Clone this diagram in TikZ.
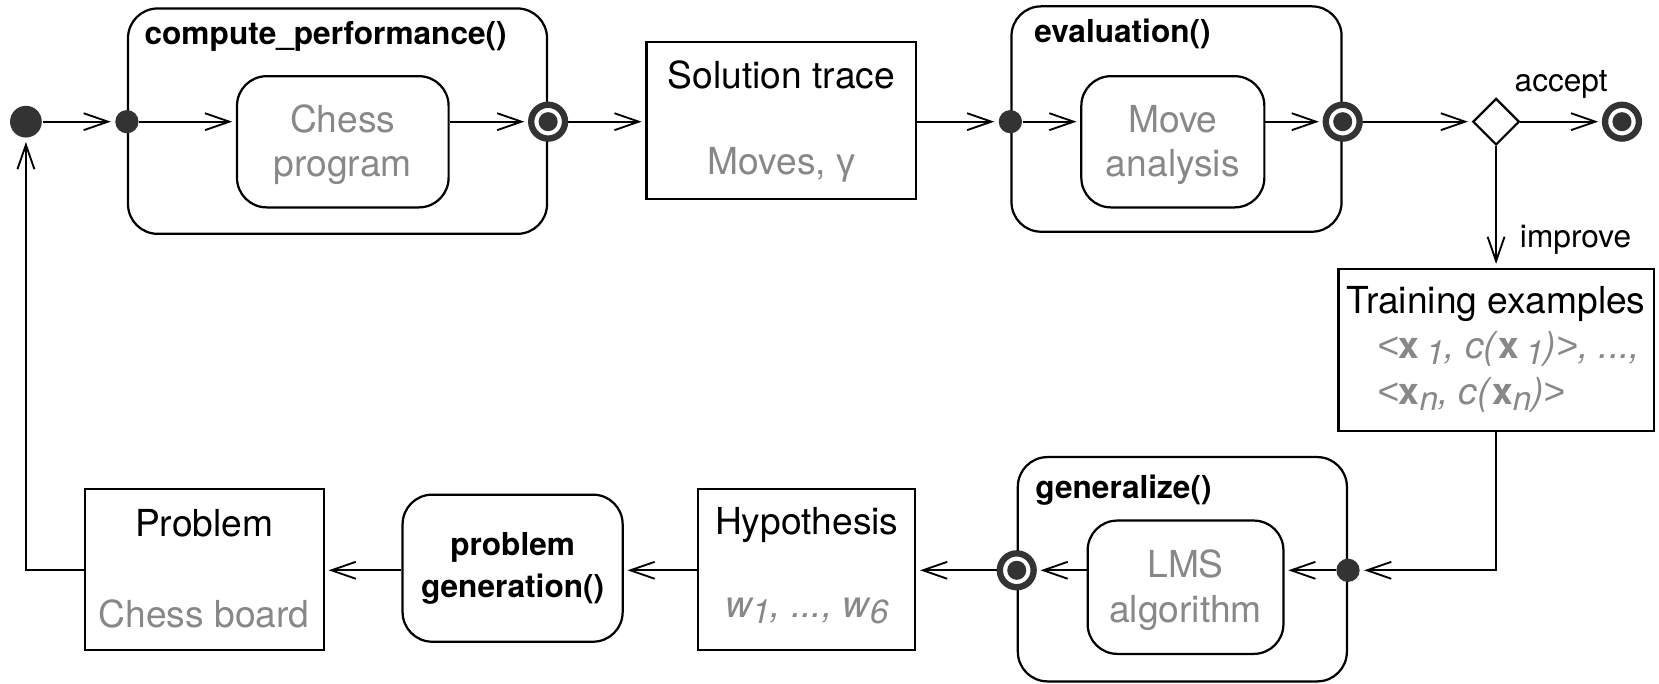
\documentclass[tikz,border=0pt]{standalone}
\usepackage{fontspec}
\setmainfont{TeX Gyre Heros}
\newfontfamily\arialfont{Liberation Sans}
\usepackage{tikz}
\usetikzlibrary{
    shapes.geometric,
    arrows.meta,
    positioning,
    calc
}
\definecolor{dotgray}{RGB}{51,51,51}
\definecolor{txtgray}{RGB}{136,136,136}
\newcommand{\lowidx}[1]{\raisebox{-0.3ex}{\fontsize{9}{9}\selectfont #1}}
\newcommand{\firstrule}{\rule{0pt}{0.32cm}}

\begin{document}
\begin{tikzpicture}[
    flow/.style={-{Straight Barb[length=2.3mm,width=1.6mm]}, line width=0.5pt, shorten >=1pt},
    stbox/.style={draw, line width=0.6pt, rounded corners=0.28cm, inner sep=0pt},
    objbox/.style={draw, line width=0.6pt, inner sep=0pt},
    actbox/.style={stbox, align=center, text=txtgray, font=\fontsize{10}{12}\selectfont},
    dot/.style={circle, fill=dotgray, minimum size=0.22cm, inner sep=0pt},
    startdot/.style={dot, minimum size=0.30cm},
    bull/.style={circle, draw=dotgray, line width=1.7pt, fill=white, minimum size=0.32cm, inner sep=0pt,
        path picture={\fill[dotgray] (path picture bounding box.center) circle (0.09cm);}},
    txt/.style={inner sep=0pt, font=\fontsize{10}{12}\selectfont},
    ttl/.style={inner sep=0pt, font=\fontsize{8.5}{11}\selectfont\bfseries},
    lbl/.style={font=\fontsize{8.5}{10}\selectfont}
]
    \useasboundingbox (0,0) rectangle (15.68,-6.46);
    \coordinate (ytop) at (0,-1.15);
    \coordinate (ybot) at (0,-5.39);

    % upper row
    \node[startdot] (start) at (0.245,-1.15) {};
    \node[stbox, minimum width=3.96cm, minimum height=2.13cm] (cpbox) at (3.19,-1.145) {};
    \node[ttl, anchor=base west] (cpttl) at ([xshift=0.16cm,yshift=-0.355cm]cpbox.north west) {compute\_performance()};
    \node[actbox, minimum width=2.00cm, minimum height=1.24cm] (chess) at (3.24,-1.34) {\firstrule Chess\\program};
    \node[dot] (cpin) at (cpbox.west |- ytop) {};
    \node[bull] (cpout) at (cpbox.east |- ytop) {};

    \node[objbox, minimum width=2.55cm, minimum height=1.48cm] (sol) at (7.385,-1.14) {};
    \node[txt, anchor=base] (solttl) at ([yshift=-0.45cm]sol.north) {Solution trace};
    \node[txt, text=txtgray, anchor=base] (soldat) at ([yshift=0.24cm]sol.south) {Moves, {\arialfont γ}};

    \node[stbox, minimum width=3.12cm, minimum height=2.13cm] (evbox) at (11.12,-1.125) {};
    \node[ttl, anchor=base west] (evttl) at ([xshift=0.22cm,yshift=-0.355cm]evbox.north west) {evaluation()};
    \node[actbox, minimum width=1.73cm, minimum height=1.24cm] (move) at (11.085,-1.34) {\firstrule Move\\analysis};
    \node[dot] (evin) at (evbox.west |- ytop) {};
    \node[bull] (evout) at (evbox.east |- ytop) {};

    \node[diamond, draw, line width=0.6pt, aspect=1, minimum size=0.44cm, inner sep=0pt] (choice) at (14.14,-1.15) {};
    \node[bull] (done) at (15.33,-1.15) {};

    % training data
    \node[objbox, minimum width=2.98cm, minimum height=1.53cm] (train) at (14.14,-3.305) {};
    \node[txt, anchor=base] (trainttl) at ([yshift=-0.43cm]train.north) {Training examples};
    \node[txt, text=txtgray, anchor=base west, font=\fontsize{10}{12}\selectfont\itshape] (trainxa) at (13.01,-3.39)
        {{\arialfont <}\textup{\bfseries x}\,\lowidx{1}, c(\textup{\bfseries x}\,\lowidx{1}){\arialfont >}, ...,};
    \node[txt, text=txtgray, anchor=base west, font=\fontsize{10}{12}\selectfont\itshape] (trainxb) at (13.01,-3.82)
        {{\arialfont <}\textup{\bfseries x}\lowidx{n}, c(\textup{\bfseries x}\lowidx{n}){\arialfont >}};

    % lower row
    \node[stbox, minimum width=3.11cm, minimum height=2.12cm] (gnbox) at (11.175,-5.38) {};
    \node[ttl, anchor=base west] (gnttl) at ([xshift=0.17cm,yshift=-0.40cm]gnbox.north west) {generalize()};
    \node[actbox, minimum width=1.85cm, minimum height=1.26cm] (lms) at (11.205,-5.55) {\firstrule LMS\\algorithm};
    \node[dot] (gnin) at (gnbox.east |- ybot) {};
    \node[bull] (gnout) at (gnbox.west |- ybot) {};

    \node[objbox, minimum width=2.05cm, minimum height=1.52cm] (hyp) at (7.625,-5.38) {};
    \node[txt, anchor=base] (hypttl) at ([yshift=-0.44cm]hyp.north) {Hypothesis};
    \node[txt, text=txtgray, anchor=base, font=\fontsize{10}{12}\selectfont\itshape] (hypdat) at ([yshift=0.31cm]hyp.south)
        {w\lowidx{1}, ..., w\lowidx{6}};

    \node[stbox, align=center, font=\fontsize{8.5}{11.2}\selectfont\bfseries,
          minimum width=2.08cm, minimum height=1.39cm] (pgen) at (4.845,-5.37) {problem\\generation()};

    \node[objbox, minimum width=2.26cm, minimum height=1.52cm] (prob) at (1.93,-5.38) {};
    \node[txt, anchor=base] (probttl) at ([yshift=-0.46cm]prob.north) {Problem};
    \node[txt, text=txtgray, anchor=base] (probdat) at ([yshift=0.22cm]prob.south) {Chess board};

    % transitions
    \foreach \a/\b in {start/cpin, cpin/chess, chess/cpout, cpout/sol, sol/evin, evin/move, move/evout, evout/choice}
        \draw[flow] (\a.east |- ytop) -- (\b.west |- ytop);
    \draw[flow] (choice) -- (done) node[lbl, midway, above=0.09cm] {accept};
    \draw[flow] (choice) -- (choice |- train.north) node[lbl, pos=0.77, right=0.1cm] {improve};
    \draw[flow] (train.south) |- (gnin);
    \foreach \a/\b in {gnin/lms, lms/gnout, gnout/hyp, hyp/pgen, pgen/prob}
        \draw[flow] (\a.west |- ybot) -- (\b.east |- ybot);
    \draw[flow] (prob.west |- ybot) -| (start);
\end{tikzpicture}
\end{document}
